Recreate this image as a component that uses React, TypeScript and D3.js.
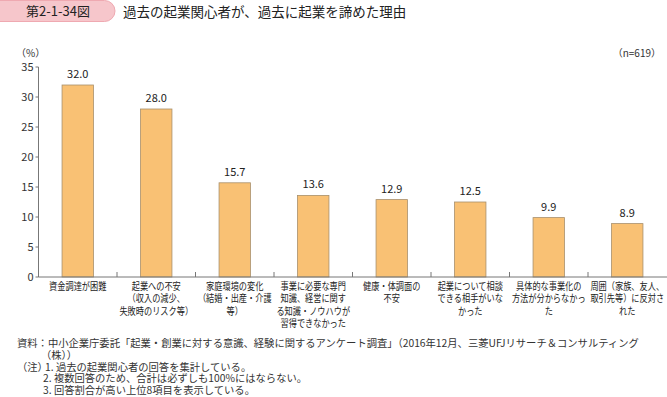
import { scaleBand, scaleLinear } from "d3";

const categories = [
  ["資金調達が困難"],
  ["起業への不安", "（収入の減少、", "失敗時のリスク等）"],
  ["家庭環境の変化", "（結婚・出産・介護", "等）"],
  ["事業に必要な専門", "知識、経営に関す", "る知識・ノウハウが", "習得できなかった"],
  ["健康・体調面の", "不安"],
  ["起業について相談", "できる相手がいな", "かった"],
  ["具体的な事業化の", "方法が分からなかっ", "た"],
  ["周囲（家族、友人、", "取引先等）に反対さ", "れた"],
];
const values = [32.0, 28.0, 15.7, 13.6, 12.9, 12.5, 9.9, 8.9];
const yTicks = [0, 5, 10, 15, 20, 25, 30, 35];
const notes = [
  "資料：中小企業庁委託「起業・創業に対する意識、経験に関するアンケート調査」（2016年12月、三菱UFJリサーチ＆コンサルティング",
  "（株））",
  "（注）1. 過去の起業関心者の回答を集計している。",
  "2. 複数回答のため、合計は必ずしも100%にはならない。",
  "3. 回答割合が高い上位8項目を表示している。",
];
const noteIndent = [17, 41, 17, 43, 43];

const W = 667;
const H = 397;
const margin = { left: 38.5, right: 0.5, top: 67, bottom: 120 };
const font = "'Noto Sans CJK JP', 'Noto Sans', sans-serif";

export default function App() {
  const idx = values.map((_, i) => String(i));
  const x = scaleBand<string>()
    .domain(idx)
    .range([margin.left, W - margin.right])
    .paddingInner(0.6)
    .paddingOuter(0.3);
  const y = scaleLinear().domain([0, 35]).range([H - margin.bottom, margin.top]);
  const step = x.step();
  const bw = x.bandwidth();
  const y0 = y(0);

  return (
    <svg width={W} height={H} style={{ position: "absolute", left: 0, top: 0 }} fontFamily={font}>
      {/* header */}
      <rect x={-12} y={0.5} width={127} height={21} rx={10.5} fill="#F6C6CB" stroke="#EFA9B1" />
      <text x={58} y={16} fontSize={13} textAnchor="middle" fill="#222">第2-1-34図</text>
      <text x={123} y={16.5} fontSize={13.5} fill="#222">過去の起業関心者が、過去に起業を諦めた理由</text>
      <text x={16} y={57} fontSize={10} fill="#333">（%）</text>
      <text x={661} y={57} fontSize={10} textAnchor="end" fill="#333">（n=619）</text>

      {/* y axis */}
      <line x1={margin.left} x2={margin.left} y1={y(35)} y2={y0} stroke="#777" />
      {yTicks.map((t) => (
        <g key={t}>
          <line x1={margin.left - 3} x2={margin.left} y1={y(t)} y2={y(t)} stroke="#777" />
          <text x={margin.left - 5} y={y(t) + 4} fontSize={11} textAnchor="end" fill="#333">{t}</text>
        </g>
      ))}

      {/* bars */}
      {values.map((v, i) => {
        const bx = x(String(i)) as number;
        return (
          <g key={i}>
            <rect x={bx} y={y(v)} width={bw} height={y0 - y(v)} fill="#F9C174" stroke="#A8906C" strokeWidth={0.8} />
            <text x={bx + bw / 2} y={y(v) - 7} fontSize={11} textAnchor="middle" fill="#222">{v.toFixed(1)}</text>
          </g>
        );
      })}

      {/* x axis */}
      <line x1={margin.left} x2={W} y1={y0} y2={y0} stroke="#777" />
      {idx.slice(0, -1).map((d) => {
        const tx = (x(d) as number) + bw / 2 + step / 2;
        return <line key={d} x1={tx} x2={tx} y1={y0 - 5} y2={y0} stroke="#777" />;
      })}
      {categories.map((lines, i) => {
        const cx = (x(String(i)) as number) + bw / 2;
        return (
          <g key={i} transform={`translate(${cx},0) scale(0.82,1)`}>
            <text y={290} fontSize={10} textAnchor="middle" fill="#222">
              {lines.map((s, j) => (
                <tspan key={j} x={0} y={290 + j * 12.3}>{s}</tspan>
              ))}
            </text>
          </g>
        );
      })}

      {/* notes */}
      <text fontSize={10.3} fill="#333">
        {notes.map((s, i) => (
          <tspan key={i} x={noteIndent[i]} y={347 + i * 11.8}>
            {i === 2 ? "（注）" : ""}
            {i === 2 ? <tspan x={45}>{s.replace("（注）", "")}</tspan> : s}
          </tspan>
        ))}
      </text>
    </svg>
  );
}
